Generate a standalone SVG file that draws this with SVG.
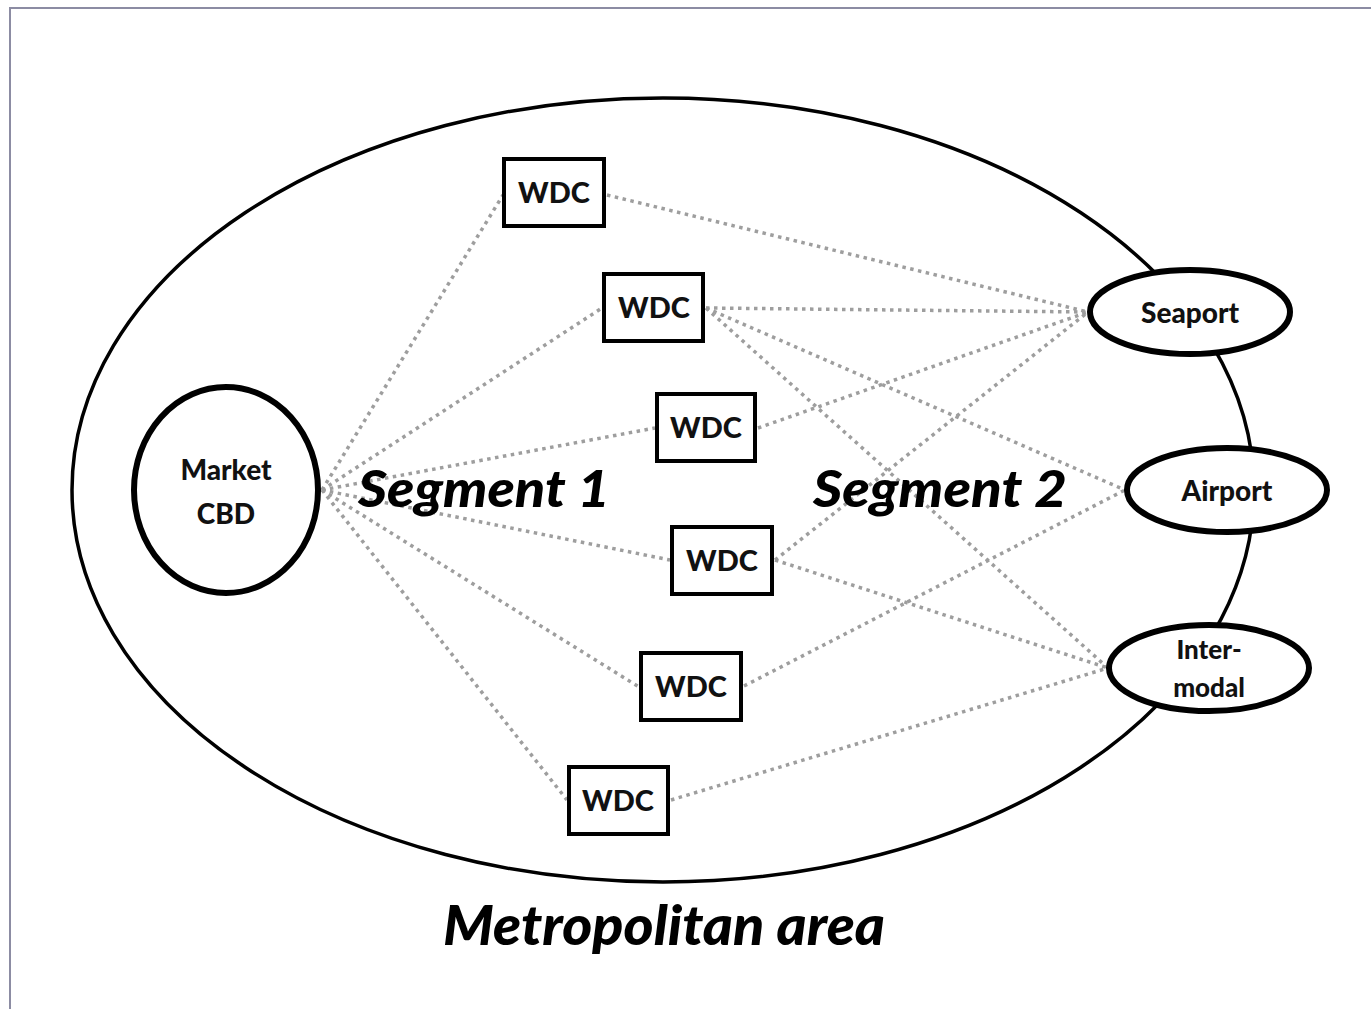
<svg xmlns="http://www.w3.org/2000/svg" width="1371" height="1009" viewBox="0 0 1371 1009">
<style>
.frame{fill:none;stroke:#8c8ca3;stroke-width:2}
.area{fill:none;stroke:#000;stroke-width:3.5}
.hub{fill:#fff;stroke:#000;stroke-width:6}
.box{fill:#fff;stroke:#000;stroke-width:4}
.link{fill:none;stroke:#9e9e9e;stroke-width:3.5;stroke-dasharray:3.5 4.5}
.lbl{font-family:Lato,"Open Sans",sans-serif;font-weight:900;fill:#111;text-anchor:middle}
.seg{font-family:Lato,"Open Sans",sans-serif;font-weight:900;font-style:italic;fill:#000}
</style>
<rect width="1371" height="1009" fill="#fff"/>
<rect class="frame" x="10" y="8" width="1380" height="1020"/>
<g id="metro-area">
<ellipse class="area" cx="663" cy="490" rx="591" ry="392"/>
<text class="seg" x="443" y="945" font-size="56" textLength="442" lengthAdjust="spacingAndGlyphs">Metropolitan area</text>
</g>
<g id="connectors">
<line class="link" x1="322" y1="490" x2="503" y2="195"/>
<line class="link" x1="322" y1="490" x2="602" y2="308"/>
<line class="link" x1="322" y1="490" x2="655" y2="428"/>
<line class="link" x1="322" y1="490" x2="670" y2="560"/>
<line class="link" x1="322" y1="490" x2="639" y2="687"/>
<line class="link" x1="322" y1="490" x2="567" y2="800"/>
<line class="link" x1="607" y1="195" x2="1088" y2="312"/>
<line class="link" x1="706" y1="308" x2="1088" y2="312"/>
<line class="link" x1="706" y1="308" x2="1125" y2="490"/>
<line class="link" x1="706" y1="308" x2="1108" y2="668"/>
<line class="link" x1="758" y1="428" x2="1088" y2="312"/>
<line class="link" x1="775" y1="560" x2="1088" y2="312"/>
<line class="link" x1="775" y1="560" x2="1108" y2="668"/>
<line class="link" x1="744" y1="686" x2="1125" y2="490"/>
<line class="link" x1="671" y1="800" x2="1108" y2="668"/>
</g>
<g id="segment-labels">
<text class="seg" x="358" y="507" font-size="52" textLength="252" lengthAdjust="spacingAndGlyphs">Segment 1</text>
<text class="seg" x="813" y="507" font-size="52" textLength="254" lengthAdjust="spacingAndGlyphs">Segment 2</text>
</g>
<g id="market-cbd">
<ellipse class="hub" cx="226" cy="490" rx="92" ry="103"/>
<text class="lbl" x="226" y="480" font-size="28">Market</text>
<text class="lbl" x="226" y="524" font-size="28">CBD</text>
</g>
<g id="wdc1"><rect class="box" x="504" y="159" width="100" height="67"/><text class="lbl" x="554" y="203" font-size="29">WDC</text></g>
<g id="wdc2"><rect class="box" x="604" y="274" width="99" height="67"/><text class="lbl" x="654" y="318" font-size="29">WDC</text></g>
<g id="wdc3"><rect class="box" x="657" y="394" width="98" height="67"/><text class="lbl" x="706" y="438" font-size="29">WDC</text></g>
<g id="wdc4"><rect class="box" x="672" y="527" width="100" height="67"/><text class="lbl" x="722" y="571" font-size="29">WDC</text></g>
<g id="wdc5"><rect class="box" x="641" y="653" width="100" height="67"/><text class="lbl" x="691" y="697" font-size="29">WDC</text></g>
<g id="wdc6"><rect class="box" x="569" y="767" width="99" height="67"/><text class="lbl" x="618" y="811" font-size="29">WDC</text></g>
<g id="seaport"><ellipse class="hub" cx="1190" cy="312" rx="100" ry="42"/><text class="lbl" x="1190" y="323" font-size="28">Seaport</text></g>
<g id="airport"><ellipse class="hub" cx="1227" cy="490" rx="100" ry="42"/><text class="lbl" x="1227" y="501" font-size="28">Airport</text></g>
<g id="intermodal"><ellipse class="hub" cx="1209" cy="668" rx="100" ry="43"/><text class="lbl" x="1209" y="659" font-size="26">Inter-</text><text class="lbl" x="1209" y="697" font-size="26">modal</text></g>
</svg>
